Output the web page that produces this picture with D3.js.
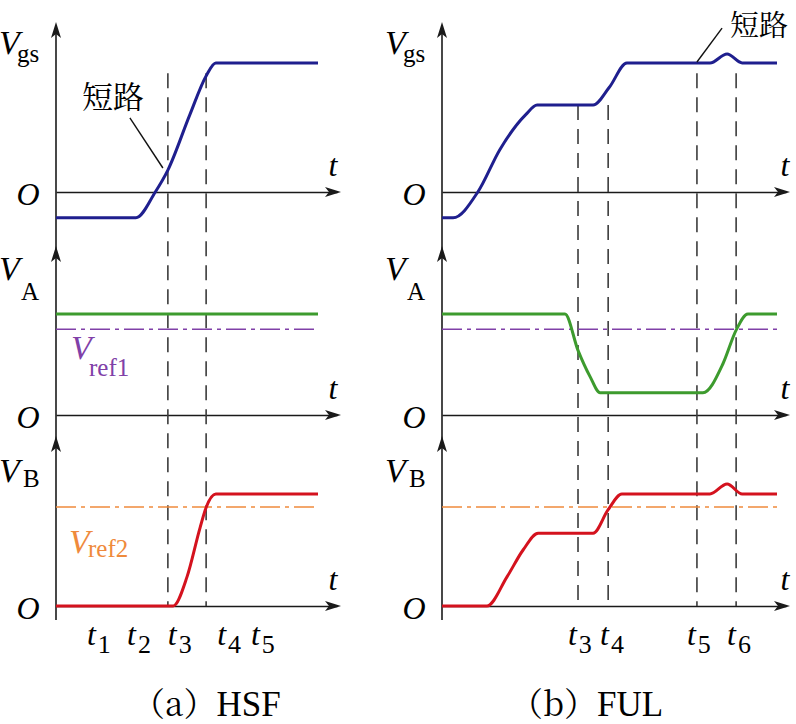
<!DOCTYPE html>
<html><head><meta charset="utf-8">
<script src="https://cdn.jsdelivr.net/npm/d3@7"></script>
<style>body{margin:0;background:#fff}svg{display:block}
.serif{font-family:"Liberation Serif","Times New Roman","DejaVu Serif","Noto Serif",serif}
.cjk{font-family:"Noto Serif CJK SC","Noto Sans CJK SC",sans-serif}
</style>
</head><body>
<svg id="c" width="796" height="724"></svg>
<script>
// ---------------- data (time in arbitrary units 0..10, voltages normalised) ----------------
const hsfVgs = [[0,-0.2],[3.05,-0.2],[3.79,0],[4.27,0.17],[5.11,0.6],[5.73,0.9],[6.1,1],[10,1]];
const hsfVA  = [[0,1],[10,1]];
const hsfVB  = [[0,0],[4.47,0],[5.0,0.26],[5.5,0.7],[5.73,0.88],[6.1,1],[10,1]];

const fulVgs = [[0,-0.2],[0.33,-0.2],[1.07,0],[1.73,0.33],[2.5,0.6],[2.84,0.674],[4.51,0.674],[4.99,0.81],[5.52,1],[8.0,1],[8.51,1.07],[8.96,1],[10,1]];
const fulVA  = [[0,1],[3.67,1],[4.06,0.64],[4.42,0.38],[4.72,0.22],[7.79,0.22],[8.39,0.51],[8.78,0.84],[9.13,1],[10,1]];
const fulVB  = [[0,0],[1.34,0],[1.94,0.26],[2.42,0.5],[2.87,0.65],[4.51,0.65],[4.96,0.86],[5.37,1],[8.0,1],[8.51,1.09],[8.96,1],[10,1]];

const vref1 = 0.85;
const vref2 = 0.884;

const hsfMarkers    = [4.27, 5.73];
const hsfMarkerTops = [0.92, 0.92];
const fulMarkers    = [4.06, 4.96, 7.61, 8.78];
const fulMarkerTops = [0.674, 0.674, 0.92, 0.92];

const hsfTickLabels = ["1","2","3","4","5"];
const hsfTickPos    = [1.18, 2.71, 4.27, 6.15, 7.44];
const fulTickLabels = ["3","4","5","6"];
const fulTickPos    = [3.76, 4.72, 7.31, 8.51];

const captionTags  = ["（a）", "（b）"];
const captionNames = ["HSF", "FUL"];
const shortText = "短路";
// leader line [t0,v0,t1,v1] in Vgs units
const hsfLeader = [2.82, 0.574, 4.08, 0.186];
const fulLeader = [8.36, 1.27, 7.61, 1.008];

// ---------------- layout ----------------
const svg = d3.select("#c");

const rowsLayout = [
  {zero:192, one:63,  top:22,  main:"V", sub:"gs", subDx:17, subY:62, mainY:54},
  {zero:415, one:314, top:246, main:"V", sub:"A",  subDx:21, subY:300, mainY:280},
  {zero:606, one:494, top:436, main:"V", sub:"B",  subDx:23, subY:487, mainY:482}
];
const yScales = rowsLayout.map(r => d3.scaleLinear().domain([0,1]).range([r.zero, r.one]));

const panels = [
  {x0:56,  x1:318, axisEnd:341, tX:-8, curves:[hsfVgs,hsfVA,hsfVB], markers:hsfMarkers, tops:hsfMarkerTops,
   ticks:hsfTickLabels, tickPos:hsfTickPos, capX:132, leader:hsfLeader, shortX:82, shortY:108, shortSize:31},
  {x0:442, x1:777, axisEnd:790, tX:-5, curves:[fulVgs,fulVA,fulVB], markers:fulMarkers, tops:fulMarkerTops,
   ticks:fulTickLabels, tickPos:fulTickPos, capX:510, leader:fulLeader, shortX:730, shortY:36, shortSize:29}
];
const colors = ["#1f1f8e", "#3d9b2e", "#d4121e"];
const refColors = ["#8040a8", "#ef8a3c"];
const AXIS = "#1a1a1a";

function arrowUp(x, y){
  svg.append("path").attr("d", `M${x},${y} L${x-5},${y+16} L${x},${y+12} L${x+5},${y+16} Z`).attr("fill", AXIS);
}
function arrowRight(x, y){
  svg.append("path").attr("d", `M${x},${y} L${x-16},${y-5} L${x-12},${y} L${x-16},${y+5} Z`).attr("fill", AXIS);
}
function stext(x, y, str, size, italic, fill){
  return svg.append("text").attr("class","serif").attr("x", x).attr("y", y)
    .attr("font-size", size).attr("font-style", italic ? "italic" : "normal")
    .attr("fill", fill || "#000").text(str);
}

panels.forEach((p, pi) => {
  const x = d3.scaleLinear().domain([0,10]).range([p.x0, p.x1]);
  const axisX = d3.scaleLinear().domain([0, x.invert(p.axisEnd - 4)]).range([p.x0, p.axisEnd - 4]);

  // vertical axis
  svg.append("line").attr("x1", p.x0).attr("x2", p.x0).attr("y1", rowsLayout[0].top + 4).attr("y2", 620)
     .attr("stroke", AXIS).attr("stroke-width", 1.6);
  rowsLayout.forEach((r, i) => {
    arrowUp(p.x0, r.top);
    const g = svg.append("g").attr("transform", `translate(0,${r.zero})`)
      .call(d3.axisBottom(axisX).tickValues([]).tickSizeOuter(0));
    g.select(".domain").attr("stroke", AXIS).attr("stroke-width", 1.6);
    arrowRight(p.axisEnd, r.zero);
    stext(p.axisEnd + p.tX, r.zero - 16, "t", 32, true).attr("text-anchor","middle");
    stext(p.x0 - 28, r.zero + 13, "O", 32, true).attr("text-anchor","middle");
    stext(p.x0 - 57, r.mainY, r.main, 34, true);
    stext(p.x0 - 56 + r.subDx, r.subY, r.sub, 25, false);
  });

  // dashed marker lines
  p.markers.forEach((m, i) => {
    svg.append("line").attr("x1", x(m)).attr("x2", x(m))
      .attr("y1", yScales[0](p.tops[i])).attr("y2", rowsLayout[2].zero)
      .attr("stroke", "#3c3c3c").attr("stroke-width", 1.6).attr("stroke-dasharray", "15,9");
  });

  // reference lines
  [[1, vref1], [2, vref2]].forEach(([ri, v], k) => {
    svg.append("line").attr("x1", x(0)).attr("x2", x(10))
      .attr("y1", yScales[ri](v)).attr("y2", yScales[ri](v))
      .attr("stroke", refColors[k]).attr("stroke-width", 1.5).attr("stroke-dasharray", "20,5,4,5");
  });

  // curves
  p.curves.forEach((data, i) => {
    const line = d3.line().x(d => x(d[0])).y(d => yScales[i](d[1])).curve(d3.curveMonotoneX);
    svg.append("path").datum(data).attr("d", line).attr("fill", "none")
      .attr("stroke", colors[i]).attr("stroke-width", 3).attr("stroke-linejoin","round");
  });

  // tick labels
  p.ticks.forEach((lab, i) => {
    const t = stext(x(p.tickPos[i]), 645, null, 32, false);
    t.append("tspan").attr("font-style","italic").text("t");
    t.append("tspan").attr("dx", 2).attr("dy", 8).attr("font-size", 26).text(lab);
  });

  // short-circuit annotation
  const L = p.leader;
  svg.append("line").attr("x1", x(L[0])).attr("y1", yScales[0](L[1])).attr("x2", x(L[2])).attr("y2", yScales[0](L[3]))
    .attr("stroke", "#111").attr("stroke-width", 1.4);
  svg.append("text").attr("class","cjk").attr("x", p.shortX).attr("y", p.shortY)
    .attr("font-size", p.shortSize).text(shortText);

  // caption
  const c = svg.append("text").attr("x", p.capX).attr("y", 716).attr("font-size", 33);
  c.append("tspan").attr("class","cjk").text(captionTags[pi]);
  c.append("tspan").attr("class","serif").attr("font-size", 35).text(captionNames[pi]);
});

// reference labels (left panel only)
const lx = panels[0].x0;
stext(lx + 15, 359, "V", 34, true, refColors[0]);
stext(lx + 33, 376, "ref1", 25, false, refColors[0]);
stext(lx + 13, 553, "V", 34, true, refColors[1]);
stext(lx + 32, 557, "ref2", 25, false, refColors[1]);
</script>
</body></html>
